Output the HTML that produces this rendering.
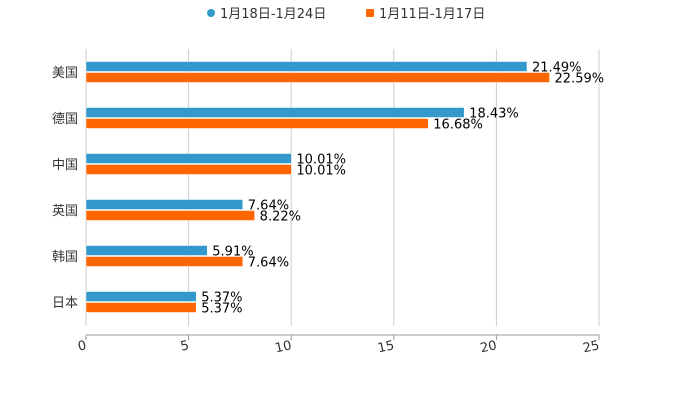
<!DOCTYPE html>
<html><head><meta charset="utf-8"><style>
body{margin:0;background:#fff;font-family:"DejaVu Sans","Noto Sans CJK SC",sans-serif}
</style></head><body>
<svg width="700" height="400" id="c" font-family="DejaVu Sans, Noto Sans CJK SC, sans-serif">
<g>
<g><circle cx="211" cy="13" r="4" fill="#3399cc"/><text x="220" y="18" font-size="13" fill="#333">1月18日-1月24日</text></g>
<g><rect x="366" y="9" width="8" height="8" rx="1" fill="#ff6600"/><text x="379" y="18" font-size="13" fill="#333">1月11日-1月17日</text></g>
</g>
</svg>
<script>
const categories=["美国","德国","中国","英国","韩国","日本"];
const seriesA=[21.49,18.43,10.01,7.64,5.91,5.37];
const seriesB=[22.59,16.68,10.01,8.22,7.64,5.37];
const ticks=[0,5,10,15,20,25];
const svg=document.getElementById('c');const NS='http://www.w3.org/2000/svg';
const x0=86,x1=599,y0=49,y1=325,xmax=25;
const xs=v=>x0+(x1-x0)*v/xmax;
const band=(y1-y0)/categories.length;
function mk(t,a,txt){const e=document.createElementNS(NS,t);for(const k in a)e.setAttribute(k,a[k]);if(txt!=null)e.textContent=txt;svg.appendChild(e);return e;}
ticks.forEach(t=>{
const g=mk('line',{x1:xs(t),x2:xs(t),y1:y0,y2:326,stroke:'#ccc','stroke-width':1});


const tk=mk('line',{x1:xs(t),x2:xs(t),y1:335,y2:340,stroke:'#999'});


const l=mk('text',{x:xs(t)+1,y:349,'font-size':13,fill:'#333','text-anchor':'end',transform:`rotate(-12 ${xs(t)+1} 349)`},String(t));


});
const ax=mk('line',{x1:x0,x2:x1,y1:335,y2:335,stroke:'#999'});


categories.forEach((c,i)=>{
const cy=y0+band*(i+0.5);
const l=mk('text',{x:78,y:cy+5,'font-size':13,fill:'#333','text-anchor':'end'},c);


[[seriesA,'#3399cc',cy-10.5],[seriesB,'#ff6600',cy+0.5]].forEach(([s,col,y],j)=>{
const r=mk('rect',{x:x0,y:y,width:xs(s[i])-x0,height:10,fill:col,stroke:'#fff','stroke-width':0.5});


const t=mk('text',{x:xs(s[i])+5,y:y+10,'font-size':13,fill:'#000'},s[i].toFixed(2)+'%');


});
});
</script>
</body></html>
